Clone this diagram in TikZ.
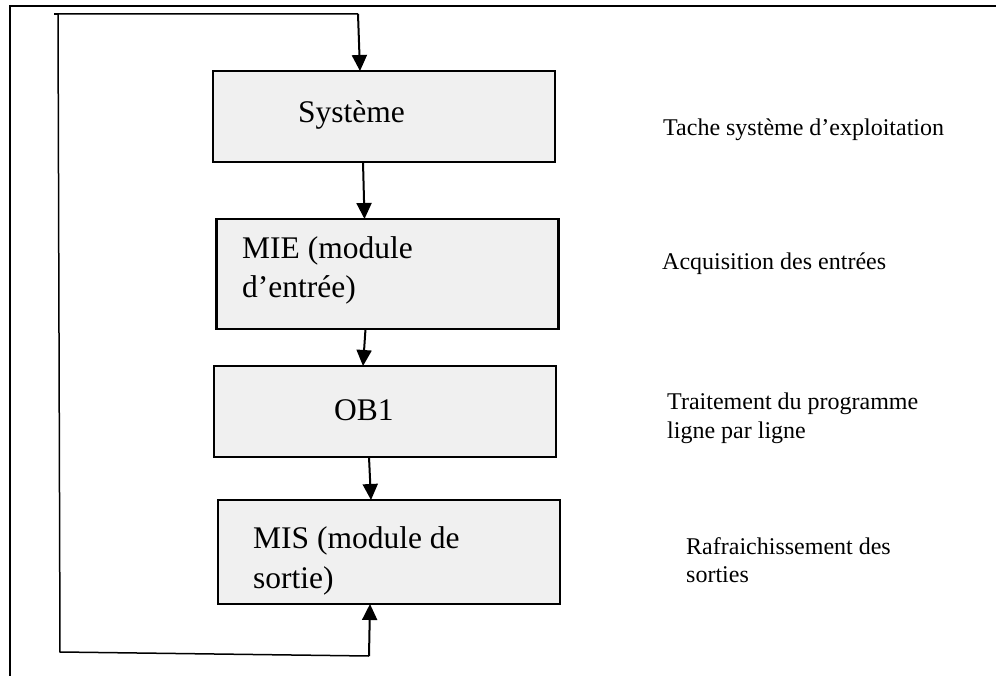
\documentclass[tikz,border=0pt]{standalone}
\usepackage{fontspec}
\setmainfont{Liberation Serif}
\usetikzlibrary{arrows.meta,calc}
\definecolor{boxgray}{RGB}{240,240,240}
\begin{document}
\begin{tikzpicture}[x=1pt,y=-1pt,
  box/.style={draw=black,line width=2.8pt,fill=boxgray,minimum width=342pt,minimum height=#1,inner sep=0pt,outer sep=0pt},
  btext/.style={anchor=base west,inner sep=0pt,font=\fontsize{31.5}{37}\selectfont},
  rtext/.style={anchor=base west,inner sep=0pt,font=\fontsize{24}{29}\selectfont},
  flow/.style={line width=2pt,-{Triangle[length=16pt,width=15pt]}},
  loopline/.style={line width=1.5pt},
  frameline/.style={line width=2pt}]
\useasboundingbox (0,0) rectangle (996,676);
% outer frame (only top and left edges visible)
\coordinate (f1) at (996,6);
\coordinate (f2) at (10,6);
\coordinate (f3) at (10,676);
\draw[frameline] (f1) -- (f2) -- (f3);
% boxes
\node[box=91pt]  (sys) at (384,116.5) {};
\node[box=110pt] (mie) at (387.5,274) {};
\node[box=91pt]  (ob1) at (385,411.5) {};
\node[box=104pt] (mis) at (389,552) {};
% box texts
\node[btext] (systxt) at (298,123) {Système};
\node[btext] (mietxta) at (242,259) {MIE (module};
\node[btext] (mietxtb) at (242,298) {d’entrée)};
\node[btext] (ob1txt) at (334,420) {OB1};
\node[btext] (mistxta) at (253,548) {MIS (module de};
\node[btext] (mistxtb) at (253,588) {sortie)};
% right labels
\node[rtext] (l1) at (663,136) {Tache système d’exploitation};
\node[rtext] (l2) at (662,270) {Acquisition des entrées};
\node[rtext] (l3a) at (667,409) {Traitement du programme};
\node[rtext] (l3b) at (667,438) {ligne par ligne};
\node[rtext] (l4a) at (686,554) {Rafraichissement des};
\node[rtext] (l4b) at (686,582) {sorties};
% flow arrows
\draw[flow] ([xshift=150pt]sys.south west) -- ([xshift=148pt]mie.north west);
\draw[flow] ([xshift=149pt]mie.south west) -- ([xshift=149pt]ob1.north west);
\draw[flow] ([xshift=155pt]ob1.south west) -- ([xshift=153pt]mis.north west);
% feedback loop
\coordinate (c1) at (358,14);
\coordinate (c4) at (58,14);
\coordinate (c3) at (60,652);
\coordinate (c2) at (369,656);
\draw[loopline] (c2) -- (c3) -- (c4) -- (c1);
\draw[loopline] (c4) -- (54,14);
\draw[flow] (c2) -- ([xshift=152pt]mis.south west);
\draw[flow] (c1) -- ([xshift=147pt]sys.north west);
\end{tikzpicture}
\end{document}
